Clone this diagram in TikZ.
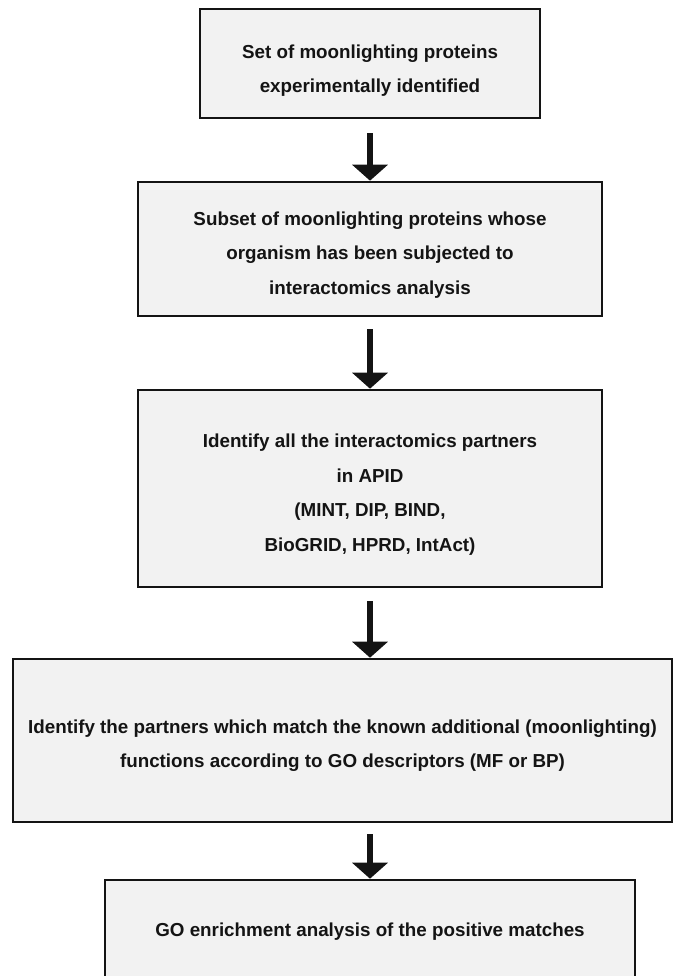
\documentclass[tikz,border=0pt]{standalone}
\usepackage{fontspec}
\setmainfont{Liberation Sans}
\usetikzlibrary{arrows.meta}
\definecolor{boxgray}{HTML}{F2F2F2}
\definecolor{inkdark}{HTML}{141414}
\begin{document}
\begin{tikzpicture}[x=1pt,y=-1pt,
  stagebox/.style={draw=inkdark, line width=2.6pt, fill=boxgray, inner sep=0pt},
  stagetext/.style={inner sep=0pt, align=center, text=inkdark,
    font=\fontsize{18.8}{34.5}\selectfont\bfseries},
  flowarrow/.style={draw=inkdark, line width=6pt,
    -{Triangle[width=35pt,length=16pt]}}]
  \useasboundingbox (0,0) rectangle (682,976);
  \clip (0,0) rectangle (682,976);
  \fill[white] (0,0) rectangle (682,976);

  % processing stages, top to bottom
  \node[stagebox, minimum width=340pt, minimum height=109pt] (b1) at (370,63.5) {};
  \node[stagebox, minimum width=464pt, minimum height=134pt] (b2) at (370,249) {};
  \node[stagebox, minimum width=464pt, minimum height=197pt] (b3) at (370,488.5) {};
  \node[stagebox, minimum width=659pt, minimum height=163pt] (b4) at (342.5,740.5) {};
  \node[stagebox, minimum width=530pt, minimum height=100pt] (b5) at (370,930) {};

  % stage descriptions
  \node[stagetext] (t1) at ([yshift=-7pt]b1.center)
    {Set of moonlighting proteins\\experimentally identified};
  \node[stagetext] (t2) at ([yshift=-6pt]b2.center)
    {Subset of moonlighting proteins whose\\organism has been subjected to\\interactomics analysis};
  \node[stagetext] (t3) at ([yshift=-6pt]b3.center)
    {Identify all the interactomics partners\\in APID\\(MINT, DIP, BIND,\\BioGRID, HPRD, IntAct)};
  \node[stagetext] (t4) at ([yshift=-5pt]b4.center)
    {Identify the partners which match the known additional (moonlighting)\\functions according to GO descriptors (MF or BP)};
  \node[stagetext] (t5) at ([yshift=-2pt]b5.center)
    {GO enrichment analysis of the positive matches};

  % connectors between stages
  \draw[flowarrow] ([yshift=-14pt]b1.south) -- (b2.north);
  \draw[flowarrow] ([yshift=-12pt]b2.south) -- (b3.north);
  \draw[flowarrow] ([yshift=-13pt]b3.south) -- (b3.south |- b4.north);
  \draw[flowarrow] ([yshift=-11pt]b5.north |- b4.south) -- (b5.north);
\end{tikzpicture}
\end{document}
